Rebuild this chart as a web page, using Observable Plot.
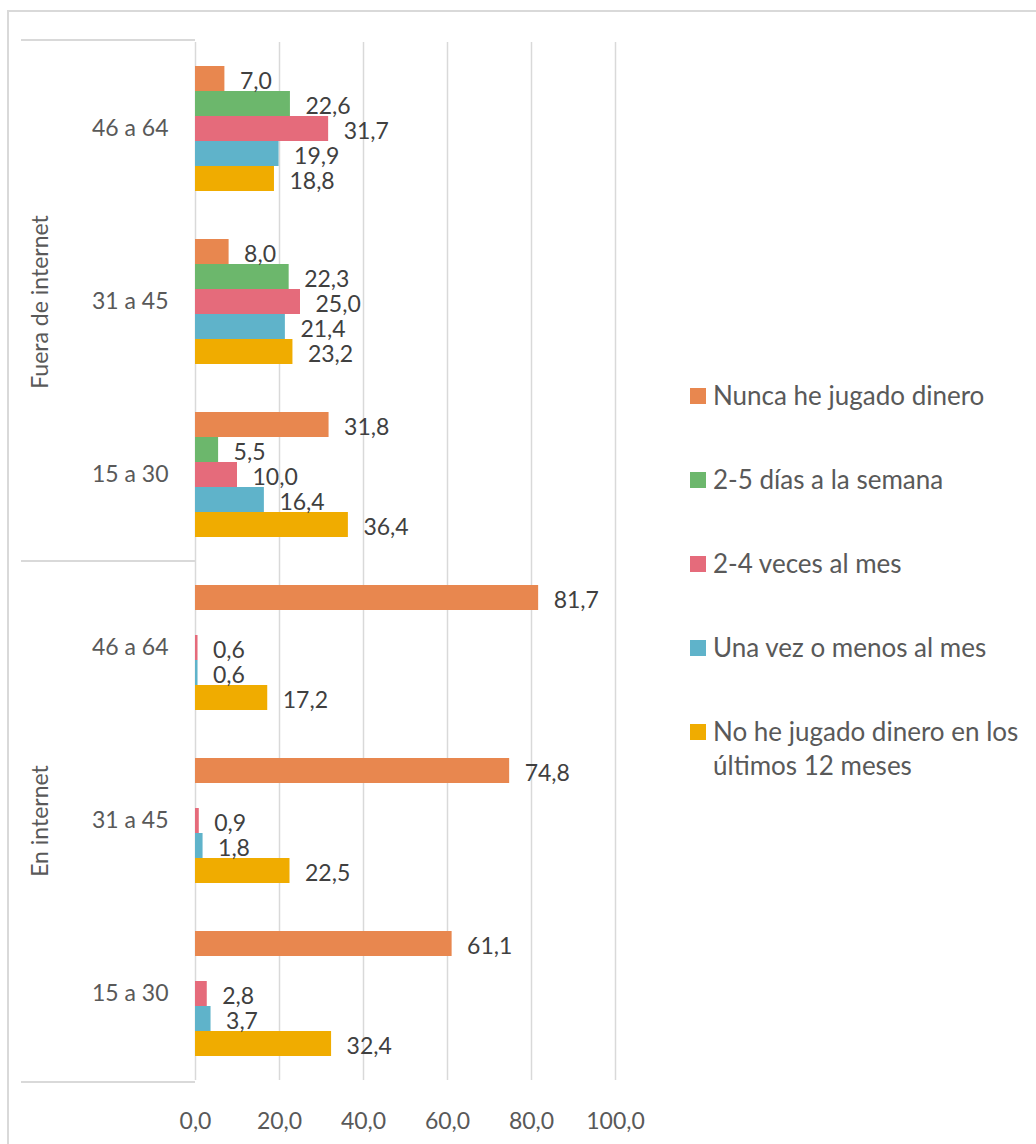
<!DOCTYPE html>
<html>
<head>
<meta charset="utf-8">
<script src="https://cdn.jsdelivr.net/npm/d3@7"></script>
<script src="https://cdn.jsdelivr.net/npm/@observablehq/plot@0.6"></script>
<style>
  html, body { margin: 0; padding: 0; background: #fff; }
  #wrap { position: relative; width: 1036px; height: 1144px; overflow: hidden; font-family: Lato, "Open Sans", sans-serif; }
  #frame { position: absolute; left: 7px; top: 10px; width: 1100px; height: 1200px; border-top: 2px solid #d9d9d9; border-left: 2px solid #d9d9d9; box-sizing: border-box; }
  #chart { position: absolute; left: 0; top: 0; }
  #legend { position: absolute; left: 690px; top: 378px; width: 340px; color: #595959; font-size: 26px; }
  .item { display: flex; align-items: flex-start; margin-bottom: 50px; line-height: 34px; }
  .sw { width: 16px; height: 16px; flex: none; margin-top: 10px; margin-right: 7px; }
</style>
</head>
<body>
<div id="wrap">
  <div id="frame"></div>
  <div id="chart"></div>
  <div id="legend"></div>
</div>
<script>
// ---- data ----
const contexts = ["Fuera de internet", "En internet"];
const ageGroups = ["46 a 64", "31 a 45", "15 a 30"];
const series = [
  "Nunca he jugado dinero",
  "2-5 días a la semana",
  "2-4 veces al mes",
  "Una vez o menos al mes",
  "No he jugado dinero en los últimos 12 meses"
];
const colors = ["#E8874F", "#6CB76C", "#E56B7B", "#5FB3CA", "#F0AC00"];
// values per age group (order of ageGroups), one entry per series
const fuera = [
  [7.0, 22.6, 31.7, 19.9, 18.8],
  [8.0, 22.3, 25.0, 21.4, 23.2],
  [31.8, 5.5, 10.0, 16.4, 36.4]
];
const enInternet = [
  [81.7, null, 0.6, 0.6, 17.2],
  [74.8, null, 0.9, 1.8, 22.5],
  [61.1, null, 2.8, 3.7, 32.4]
];
const xTicks = [0, 20, 40, 60, 80, 100];

// ---- build table ----
const valuesByContext = [fuera, enInternet];
const keys = [];
const rows = [];
contexts.forEach((c, ci) => {
  ageGroups.forEach((a, ai) => {
    const key = c + "|" + a;
    keys.push(key);
    series.forEach((s, si) => {
      const v = valuesByContext[ci][ai][si];
      if (v != null) rows.push({key, series: s, value: v});
    });
  });
});
const groupLabels = contexts.map(c => ({key: c + "|" + ageGroups[1], label: c}));

const W = 1036, H = 1144;
const mTop = 40, mBottom = 62, mLeft = 195, mRight = 421;
const fmt = d => d.toFixed(1).replace(".", ",");

const plot = Plot.plot({
  width: W,
  height: H,
  marginTop: mTop,
  marginBottom: mBottom,
  marginLeft: mLeft,
  marginRight: mRight,
  style: {fontFamily: "Lato, 'Open Sans', sans-serif", fontSize: "23px", color: "#595959", background: "transparent"},
  x: {domain: [0, 100], label: null},
  y: {domain: series, paddingInner: 0, paddingOuter: 0.92, axis: null},
  fy: {domain: keys, padding: 0, label: null, axis: null},
  color: {domain: series, range: colors},
  marks: [
    Plot.gridX(xTicks, {stroke: "#d9d9d9", strokeOpacity: 1, strokeWidth: 1.5}),
    Plot.barX(rows, {x: "value", y: "series", fy: "key", fill: "series"}),
    Plot.text(rows, {x: "value", y: "series", fy: "key", text: d => fmt(d.value), textAnchor: "start", dx: 15, dy: 3, fill: "#404040", fontSize: 23}),
    Plot.axisFy({anchor: "left", tickSize: 0, tickPadding: 27, tickFormat: d => d.split("|")[1], fontSize: 23}),
    Plot.axisX(xTicks, {anchor: "bottom", tickSize: 0, tickPadding: 32, tickFormat: fmt, fontSize: 23}),
    Plot.text(groupLabels, {fy: "key", text: "label", frameAnchor: "left", textAnchor: "middle", rotate: -90, dx: -155, fontSize: 23, fill: "#595959"})
  ]
});
document.getElementById("chart").appendChild(plot);

// separator lines of the category axis
const svg = d3.select(plot);
const step = (H - mTop - mBottom) / keys.length;
[0, 3, 6].forEach(i => {
  svg.append("line")
    .attr("x1", 21).attr("x2", mLeft)
    .attr("y1", mTop + i * step).attr("y2", mTop + i * step)
    .attr("stroke", "#d9d9d9").attr("stroke-width", 2);
});

// legend
const legend = d3.select("#legend");
series.forEach((s, i) => {
  const item = legend.append("div").attr("class", "item");
  item.append("div").attr("class", "sw").style("background", colors[i]);
  item.append("div").text(s);
});
</script>
</body>
</html>
